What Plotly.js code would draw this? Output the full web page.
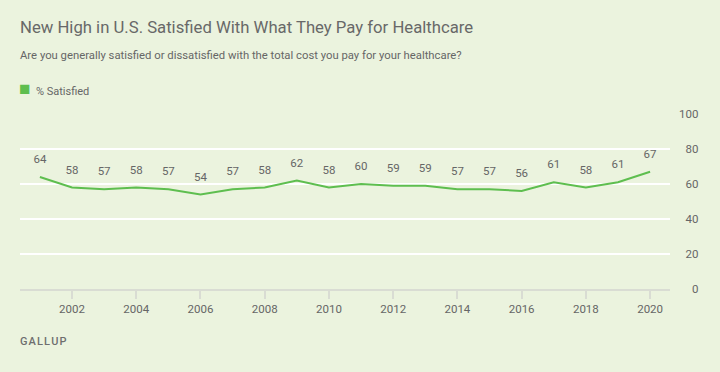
<!DOCTYPE html>
<html><head><meta charset="utf-8">
<script src="https://cdn.plot.ly/plotly-3.0.1.min.js"></script>
<style>html,body{margin:0;padding:0;background:#EBF3DE;}</style>
</head><body>
<div id="chart" style="width:720px;height:372px;"></div>
<script>
const years = [2001,2002,2003,2004,2005,2006,2007,2008,2009,2010,2011,2012,2013,2014,2015,2016,2017,2018,2019,2020];
const satisfied = [64,58,57,58,57,54,57,58,62,58,60,59,59,57,57,56,61,58,61,67];
const xTicks = [2002,2004,2006,2008,2010,2012,2014,2016,2018,2020];
const yTicks = [0,20,40,60,80,100];
const yTickText = ['\u2007\u20070','\u200720','\u200740','\u200760','\u200780','100'];
const seriesName = '% Satisfied';

const bg = '#EBF3DE';
const green = '#5EBE4F';
const textCol = '#666666';
const font = 'Roboto, "Open Sans", sans-serif';

const traces = [
  {x: years, y: satisfied, mode: 'lines+markers+text', type: 'scatter',
   text: satisfied.map(String), textposition: 'top center',
   textfont: {family: font, size: 11.5, color: textCol},
   marker: {size: 16, opacity: 0, color: green},
   line: {color: green, width: 2}, showlegend: false, hoverinfo: 'x+y', cliponaxis: false}
];

const layout = {
  width: 720, height: 372,
  paper_bgcolor: bg, plot_bgcolor: bg,
  margin: {l: 20, r: 50, t: 114, b: 83},
  font: {family: font, color: textCol},
  title: {text: 'New High in U.S. Satisfied With What They Pay for Healthcare',
          x: 20 / 720, xref: 'container', xanchor: 'left', y: 1 - 27 / 372, yref: 'container', yanchor: 'middle',
          pad: {t: 0, l: 0},
          font: {family: font, size: 16.7, color: '#686868'}},
  showlegend: false,
  xaxis: {range: [2000.38, 2020.62], tickvals: xTicks, ticktext: xTicks.map(String),
          showgrid: false, zeroline: false, showline: true, linecolor: '#D9DCD3', linewidth: 2,
          ticks: 'outside', ticklen: 8, tickwidth: 2, tickcolor: '#D9DCD3',
          tickfont: {family: font, size: 11.5, color: textCol}, fixedrange: true},
  yaxis: {range: [0, 100], tickvals: yTicks, ticktext: yTickText, side: 'right', showgrid: true, gridcolor: '#FFFFFF', gridwidth: 2,
          zeroline: false, showline: false, ticks: '', ticklabelstandoff: 8,
          tickfont: {family: font, size: 11.5, color: textCol}, fixedrange: true},
  annotations: [
    {text: 'Are you generally satisfied or dissatisfied with the total cost you pay for your healthcare?',
     xref: 'paper', yref: 'paper', x: 0, y: 1, xanchor: 'left', yanchor: 'middle',
     yshift: 114 - 55, xshift: -2, showarrow: false, font: {family: font, size: 11.3, color: textCol}},
    {text: '<span style="color:' + green + ';font-size:19px">\u25A0</span>  ' + seriesName,
     xref: 'paper', yref: 'paper', x: 0, y: 1, xanchor: 'left', yanchor: 'middle',
     yshift: 114 - 88, xshift: -3, showarrow: false, font: {family: font, size: 11, color: textCol}},
    {text: 'G\u200AA\u200AL\u200AL\u200AU\u200AP', xref: 'paper', yref: 'paper', x: 0, y: 0, xanchor: 'left', yanchor: 'middle',
     yshift: -(341 - 289), xshift: -2, showarrow: false, font: {family: font, size: 11, color: '#6E6E6E', weight: 500}}
  ]
};

Plotly.newPlot('chart', traces, layout, {displayModeBar: false, staticPlot: true});
</script>
</body></html>
